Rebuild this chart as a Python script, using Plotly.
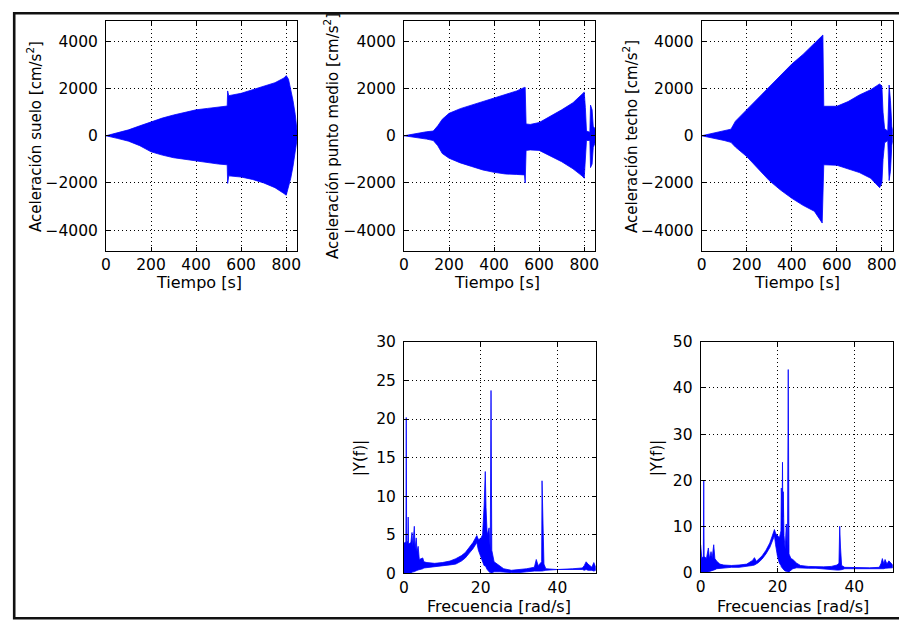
import plotly.graph_objects as go

W, H = 899, 629

# ---------------- data ----------------
# Time histories: envelope (upper / lower) of the dense acceleration records
t_suelo = [0, 50, 100, 150, 200, 250, 300, 350, 400, 450, 500, 538, 540, 545, 600, 650, 700, 750, 790, 800, 810, 820, 830, 840, 848]
up_suelo = [0, 120, 250, 420, 600, 750, 880, 1000, 1100, 1160, 1220, 1260, 1900, 1700, 1800, 1950, 2100, 2250, 2450, 2550, 2400, 2000, 1500, 900, 200]
lo_suelo = [0, -110, -230, -420, -680, -820, -930, -1000, -1050, -1130, -1200, -1230, -2020, -1700, -1750, -1850, -2000, -2200, -2450, -2520, -2200, -1800, -1300, -700, -150]

t_medio = [0, 50, 100, 130, 150, 170, 200, 250, 300, 350, 400, 450, 500, 535, 538, 542, 560, 600, 650, 700, 750, 790, 800, 805, 810, 825, 828, 835, 840, 848]
up_medio = [0, 90, 170, 200, 420, 700, 950, 1150, 1300, 1450, 1620, 1750, 1900, 2050, 2050, 500, 480, 560, 820, 1100, 1400, 1750, 1850, 1200, 200, 150, 1300, 1100, 400, 300]
lo_medio = [0, -80, -140, -200, -420, -750, -950, -1150, -1300, -1450, -1550, -1620, -1640, -1660, -2000, -620, -600, -620, -850, -1100, -1400, -1700, -1800, -1100, -200, -200, -1350, -1200, -500, -300]

t_techo = [0, 50, 100, 130, 150, 200, 250, 300, 350, 400, 450, 500, 535, 538, 542, 600, 650, 700, 750, 790, 800, 805, 812, 826, 832, 838, 844, 848]
up_techo = [0, 120, 240, 280, 620, 1100, 1600, 2100, 2560, 3040, 3450, 3930, 4270, 4270, 1250, 1250, 1450, 1730, 1950, 2200, 2100, 1000, 300, 200, 2150, 1500, 400, 200]
lo_techo = [0, -100, -200, -280, -480, -880, -1400, -1900, -2300, -2650, -2950, -3200, -3700, -3700, -1230, -1250, -1400, -1560, -1800, -2200, -2000, -1000, -300, -200, -1900, -1500, -400, -200]

# Spectra: band (min / max) of |Y(f)| per frequency bin
f_medio = [0.0, 0.5, 0.6, 0.7, 1.0, 1.1, 1.2, 1.8, 2.1, 2.3, 2.7, 2.9, 3.2, 3.4, 3.7, 4.0, 4.9, 5.2, 6.0, 8.0,
           10.0, 12.0, 13.5, 15.0, 16.0, 17.0, 18.0, 19.0, 19.4, 20.0, 20.5, 20.9, 21.2, 21.4, 21.7, 22.2, 22.5,
           22.7, 22.9, 23.5, 25.0, 26.0, 28.0, 30.0, 32.0, 34.0, 34.5, 35.0, 35.5, 35.9, 36.0, 36.2, 36.5, 37.0,
           40.0, 44.0, 46.5, 47.0, 47.5, 48.0, 49.0, 49.5, 50.0]
hi_medio = [3.9, 4.1, 20.2, 4.0, 4.2, 7.3, 3.8, 4.0, 5.3, 3.5, 6.1, 3.2, 4.6, 2.8, 3.5, 1.8, 2.0, 1.5, 1.4, 1.3,
            1.4, 1.6, 1.9, 2.3, 2.7, 3.3, 4.0, 4.9, 4.4, 4.5, 5.0, 8.8, 13.2, 8.5, 5.0, 5.9, 3.0,
            23.7, 3.0, 1.5, 0.9, 0.6, 0.4, 0.5, 0.6, 0.8, 1.8, 1.0, 1.3, 1.5, 12.0, 6.0, 1.2, 0.6,
            0.5, 0.6, 0.7, 1.0, 1.5, 1.2, 0.8, 1.4, 0.8]
lo_medio_f = [0.0, 0.0, 0.0, 0.0, 0.0, 0.0, 0.0, 0.0, 0.1, 0.2, 0.2, 0.3, 0.3, 0.4, 0.4, 0.5, 0.6, 0.7, 0.8, 0.9,
              1.0, 1.1, 1.2, 1.6, 2.0, 2.6, 3.2, 4.0, 3.0, 2.0, 1.5, 1.0, 1.0, 0.8, 0.5, 0.2, 0.1,
              0.0, 0.0, 0.2, 0.2, 0.2, 0.1, 0.1, 0.2, 0.3, 0.3, 0.3, 0.3, 0.3, 0.3, 0.3, 0.3, 0.4,
              0.5, 0.5, 0.5, 0.4, 0.5, 0.4, 0.4, 0.3, 0.4]

f_techo = [0.0, 0.3, 0.7, 0.8, 0.9, 1.5, 2.0, 2.3, 2.7, 3.0, 3.4, 3.7, 4.2, 5.0, 6.0, 8.0, 10.0, 12.0, 13.5,
           14.0, 14.5, 15.0, 16.0, 17.0, 18.0, 19.0, 19.2, 19.5, 20.0, 20.5, 20.9, 21.0, 21.2, 21.3, 21.4,
           21.5, 21.7, 22.0, 22.3, 22.6, 22.8, 23.0, 23.5, 24.0, 25.0, 26.0, 28.0, 30.0, 32.0, 34.0, 35.5,
           36.0, 36.2, 36.4, 36.7, 37.5, 40.0, 44.0, 46.5, 47.0, 47.3, 47.7, 48.0, 48.5, 49.0, 50.0]
hi_techo = [6.0, 3.0, 3.5, 20.0, 3.5, 3.0, 5.3, 3.0, 4.5, 3.2, 6.0, 3.0, 2.4, 1.8, 1.6, 1.5, 1.6, 1.8, 2.6,
            3.2, 2.4, 2.8, 3.6, 4.8, 6.4, 8.8, 9.3, 8.5, 8.0, 7.5, 9.0, 18.3, 12.0, 23.9, 12.0,
            17.5, 8.0, 5.0, 10.5, 4.0, 44.0, 4.0, 3.0, 2.8, 2.0, 1.5, 1.3, 1.2, 1.2, 1.3, 1.6,
            2.0, 10.0, 5.5, 1.5, 1.1, 1.0, 1.0, 1.1, 2.0, 3.0, 1.8, 2.8, 1.8, 2.5, 1.6]
lo_techo_f = [0.0, 0.0, 0.0, 0.0, 0.0, 0.0, 0.2, 0.3, 0.3, 0.4, 0.5, 0.6, 0.8, 0.9, 1.0, 1.1, 1.1, 1.3, 1.5,
              1.6, 1.8, 2.1, 2.9, 4.0, 5.4, 7.5, 8.0, 6.0, 3.5, 2.0, 1.5, 1.2, 1.0, 1.0, 0.8,
              0.8, 0.5, 0.3, 0.2, 0.2, 0.0, 0.2, 0.5, 0.8, 1.0, 1.0, 0.9, 0.9, 0.8, 0.6, 0.5,
              0.5, 0.5, 0.5, 0.6, 0.8, 0.9, 0.9, 0.9, 0.8, 0.8, 0.8, 0.9, 1.0, 1.0, 1.0]

t_ticks = [0, 200, 400, 600, 800]
a_ticks = [-4000, -2000, 0, 2000, 4000]
f_ticks = [0, 20, 40]
y4_ticks = [0, 5, 10, 15, 20, 25, 30]
y5_ticks = [0, 10, 20, 30, 40, 50]

y_titles_top = ["Aceleración suelo [cm/s<sup>2</sup>]",
                "Aceleración punto medio [cm/s<sup>2</sup>]",
                "Aceleración techo [cm/s<sup>2</sup>]"]
x_title_top = "Tiempo [s]"
x_titles_bot = ["Frecuencia [rad/s]", "Frecuencias [rad/s]"]
y_title_bot = "|Y(f)|"

# ---------------- styling ----------------
BLUE = "rgb(0,0,255)"
FONT = "DejaVu Sans"


def px(x):
    return x / W


def py(y):
    return 1 - y / H


def polygon(xs, hi, lo):
    return list(xs) + list(xs)[::-1], list(hi) + list(lo)[::-1]


fig = go.Figure()

series = [
    (t_suelo, up_suelo, lo_suelo, "x", "y"),
    (t_medio, up_medio, lo_medio, "x2", "y2"),
    (t_techo, up_techo, lo_techo, "x3", "y3"),
    (f_medio, hi_medio, lo_medio_f, "x4", "y4"),
    (f_techo, hi_techo, lo_techo_f, "x5", "y5"),
]
for xs, hi, lo, xa, ya in series:
    X, Y = polygon(xs, hi, lo)
    fig.add_trace(go.Scatter(x=X, y=Y, xaxis=xa, yaxis=ya, mode="lines",
                             fill="toself", fillcolor=BLUE,
                             line=dict(color=BLUE, width=0.8),
                             hoverinfo="skip", showlegend=False))

# axes domains in pixels: (left, right, top, bottom)
boxes = [
    (102, 295, 12, 249),
    (403, 596, 12, 249),
    (703.7, 896.7, 12, 249),
    (403, 596.7, 342.7, 581),
    (702.7, 896.7, 342.7, 580),
]
xranges = [[0, 848]] * 3 + [[0, 50]] * 2
yranges = [[-4880, 4880]] * 3 + [[0, 30], [0, 50]]
xticks = [t_ticks] * 3 + [f_ticks] * 2
yticks = [a_ticks] * 3 + [y4_ticks, y5_ticks]

common = dict(showline=True, linecolor="black", linewidth=1, mirror="ticks",
              ticks="inside", ticklen=4, tickcolor="black", tickwidth=1,
              showgrid=True, gridcolor="black", gridwidth=1, griddash="1px,3px",
              zeroline=False, tickfont=dict(family=FONT, size=15.5, color="black"))

layout = {}
for i, (l, r, t, b) in enumerate(boxes):
    n = "" if i == 0 else str(i + 1)
    layout["xaxis" + n] = dict(domain=[px(l), px(r)], anchor="y" + n, range=xranges[i],
                               tickvals=xticks[i], ticklabelstandoff=0, **common)
    layout["yaxis" + n] = dict(domain=[py(b), py(t)], anchor="x" + n, range=yranges[i],
                               tickvals=yticks[i], ticklabelstandoff=4, **common)

annotations = []
tfont = dict(family=FONT, size=16, color="black")
yfont = dict(family=FONT, size=15, color="black")
# x titles
for cx, txt in zip([196, 497, 800], [x_title_top] * 3):
    annotations.append(dict(x=px(cx), y=py(282), xref="paper", yref="paper", text=txt,
                            showarrow=False, xanchor="center", yanchor="middle", font=tfont))
for cx, txt in zip([499, 796], x_titles_bot):
    annotations.append(dict(x=px(cx), y=py(615), xref="paper", yref="paper", text=txt,
                            showarrow=False, xanchor="center", yanchor="middle", font=tfont))
# y titles
for cx, txt in zip([30, 330, 632], y_titles_top):
    annotations.append(dict(x=px(cx), y=py(131), xref="paper", yref="paper", text=txt,
                            textangle=-90, showarrow=False, xanchor="center", yanchor="middle",
                            font=yfont))
for cx in [358, 658]:
    annotations.append(dict(x=px(cx), y=py(462), xref="paper", yref="paper", text=y_title_bot,
                            textangle=-90, showarrow=False, xanchor="center", yanchor="middle",
                            font=yfont))

# outer frame of the (cropped) figure
shapes = [dict(type="rect", xref="paper", yref="paper",
               x0=px(9.3), x1=px(910), y0=py(627.2), y1=py(4.3),
               line=dict(color="#111", width=2.6))]

fig.update_layout(width=W, height=H, margin=dict(l=0, r=0, t=0, b=0),
                  paper_bgcolor="white", plot_bgcolor="white",
                  showlegend=False, annotations=annotations, shapes=shapes,
                  font=dict(family=FONT, color="black"), **layout)

fig.write_html("out.html", config={"displayModeBar": False},
               post_script="document.body.style.margin='0';document.body.style.overflow='hidden';")
